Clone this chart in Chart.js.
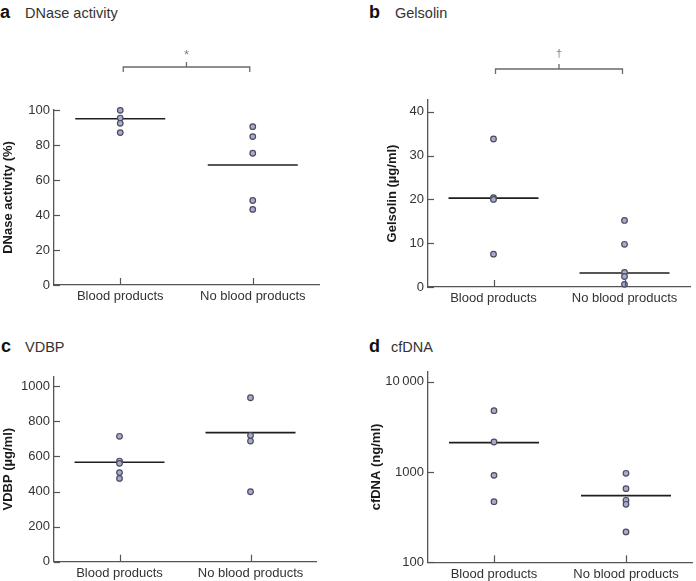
<!DOCTYPE html>
<html><head><meta charset="utf-8">
<script src="https://cdn.jsdelivr.net/npm/chart.js@4"></script>
<style>
body{margin:0;background:#fff;width:696px;height:581px;position:relative;overflow:hidden;font-family:"Liberation Sans",Arial,sans-serif;color:#222}
canvas{position:absolute}
.lt{position:absolute;font-size:18px;font-weight:bold;line-height:22px;white-space:nowrap;color:#111}
.tt{position:absolute;font-size:14.5px;line-height:22px;white-space:nowrap;color:#333}
</style></head>
<body>
<div class="lt" style="left:0px;top:1px">a</div><div class="tt" style="left:25px;top:2.3px">DNase activity</div>
<div class="lt" style="left:369px;top:1px">b</div><div class="tt" style="left:395px;top:2.3px">Gelsolin</div>
<div class="lt" style="left:1px;top:334.5px">c</div><div class="tt" style="left:25px;top:335.8px">VDBP</div>
<div class="lt" style="left:369px;top:334.5px">d</div><div class="tt" style="left:391px;top:335.8px">cfDNA</div>
<canvas id="cA" width="348" height="320" style="left:0;top:0;width:348px;height:320px"></canvas>
<canvas id="cB" width="348" height="320" style="left:348px;top:0;width:348px;height:320px"></canvas>
<canvas id="cC" width="348" height="261" style="left:0;top:320px;width:348px;height:261px"></canvas>
<canvas id="cD" width="348" height="261" style="left:348px;top:320px;width:348px;height:261px"></canvas>
<script>
// ---- data ----
const categories = ['Blood products', 'No blood products'];

const dnaseBlood = [99.8, 95.4, 92.4, 87.1];
const dnaseNoBlood = [90.5, 84.8, 75.3, 48.3, 43.2];
const dnaseLines = [95.0, 68.6];
const dnaseTicks = [0, 20, 40, 60, 80, 100];
const dnaseTickLabels = ['0', '20', '40', '60', '80', '100'];

const gelsolinBlood = [33.8, 20.4, 20.0, 7.5];
const gelsolinNoBlood = [15.2, 9.75, 3.35, 2.4, 0.6];
const gelsolinLines = [20.3, 3.2];
const gelsolinTicks = [0, 10, 20, 30, 40];
const gelsolinTickLabels = ['0', '10', '20', '30', '40'];

const vdbpBlood = [715, 574, 561, 508, 475];
const vdbpNoBlood = [935, 720, 688, 399];
const vdbpLines = [567, 736];
const vdbpTicks = [0, 200, 400, 600, 800, 1000];
const vdbpTickLabels = ['0', '200', '400', '600', '800', '1000'];

const cfdnaBlood = [4775, 2148, 918, 469];
const cfdnaNoBlood = [967, 654, 486, 439, 217];
const cfdnaLines = [2113, 547];
const cfdnaTicks = [100, 1000, 10000];
const cfdnaTickLabels = ['100', '1000', '10\u2009000'];

// ---- styles ----
const AXIS = '#555';
const TXT = '#333';
const FONT = '"Liberation Sans", Arial, sans-serif';

const decor = {
  id: 'decor',
  beforeDatasetsDraw(chart, args, opts) {
    const ctx = chart.ctx, x = chart.scales.x, y = chart.scales.y;
    ctx.save();
    ctx.strokeStyle = '#1e1e1e';
    ctx.lineWidth = 1.6;
    opts.medians.forEach((m, i) => {
      const px = x.getPixelForValue(i), py = y.getPixelForValue(m);
      ctx.beginPath(); ctx.moveTo(px - 45, py); ctx.lineTo(px + 45, py); ctx.stroke();
    });
    ctx.restore();
  },
  afterDraw(chart, args, opts) {
    const ctx = chart.ctx, x = chart.scales.x, y = chart.scales.y, a = chart.chartArea;
    ctx.save();
    ctx.strokeStyle = AXIS; ctx.lineWidth = 1.2;
    y.ticks.forEach(t => {
      const py = Math.round(y.getPixelForValue(t.value)) + 0.5;
      ctx.beginPath(); ctx.moveTo(a.left, py); ctx.lineTo(a.left + 6, py); ctx.stroke();
    });
    x.ticks.forEach(t => {
      const px = Math.round(x.getPixelForValue(t.value)) + 0.5;
      ctx.beginPath(); ctx.moveTo(px, a.bottom); ctx.lineTo(px, a.bottom - 7); ctx.stroke();
    });
    if (opts.bracket) {
      const x0 = x.getPixelForValue(0) + opts.bracket.inset, x1 = x.getPixelForValue(1) - opts.bracket.inset;
      const by = a.top - opts.bracket.above;
      ctx.strokeStyle = '#6a6a6a'; ctx.lineWidth = 1.3;
      ctx.beginPath();
      ctx.moveTo(x0, by + 5); ctx.lineTo(x0, by); ctx.lineTo(x1, by); ctx.lineTo(x1, by + 5);
      ctx.moveTo((x0 + x1) / 2, by); ctx.lineTo((x0 + x1) / 2, by - 5);
      ctx.stroke();
      ctx.fillStyle = '#808080';
      ctx.font = opts.bracket.size + 'px ' + FONT;
      ctx.textAlign = 'center'; ctx.textBaseline = 'middle';
      ctx.fillText(opts.bracket.symbol, (x0 + x1) / 2, by - opts.bracket.symOff);
    }
    ctx.restore();
  }
};

function pts(vals, idx) { return vals.map(v => ({ x: idx, y: v })); }

function makeChart(id, cfg) {
  const ds = (vals, idx) => ({
    data: pts(vals, idx), pointRadius: 2.8, pointHoverRadius: 2.8,
    pointBackgroundColor: '#a6abd2', pointBorderColor: '#4b4b5c', pointBorderWidth: 1.2,
    showLine: false, clip: false
  });
  return new Chart(document.getElementById(id), {
    type: 'scatter',
    data: { datasets: [ds(cfg.blood, 0), ds(cfg.noBlood, 1)] },
    options: {
      responsive: false, animation: false, devicePixelRatio: 1,
      layout: { padding: { top: cfg.padTop, right: cfg.padRight, left: 0, bottom: 0 } },
      plugins: { legend: { display: false }, tooltip: { enabled: false },
        decor: { medians: cfg.lines, bracket: cfg.bracket } },
      scales: {
        x: {
          type: 'linear', min: -0.5, max: 1.5, offset: false,
          afterBuildTicks: s => { s.ticks = categories.map((c, i) => ({ value: i })); },
          afterFit: s => { s.height = cfg.xH; },
          grid: { display: false, drawTicks: false },
          border: { display: true, color: AXIS, width: 1.3 },
          ticks: { autoSkip: false, maxRotation: 0, padding: 4, color: TXT,
            font: { family: FONT, size: 13 }, callback: (v, i) => categories[i] }
        },
        y: {
          type: cfg.yType, min: cfg.yMin, max: cfg.yMax,
          afterBuildTicks: s => { s.ticks = cfg.ticks.map(v => ({ value: v })); },
          afterFit: s => { s.width = cfg.yW; },
          grid: { display: false, drawTicks: false },
          border: { display: true, color: AXIS, width: 1.3 },
          ticks: { padding: 4, color: TXT, font: { family: FONT, size: 13 },
            callback: (v, i) => cfg.tickLabels[i] },
          title: { display: true, text: cfg.title, color: '#1a1a1a',
            font: { family: FONT, size: 13, weight: 'bold' }, padding: { top: cfg.titlePad, bottom: 0 } }
        }
      }
    },
    plugins: [decor]
  });
}

makeChart('cA', { blood: dnaseBlood, noBlood: dnaseNoBlood, lines: dnaseLines,
  ticks: dnaseTicks, tickLabels: dnaseTickLabels, yType: 'linear', yMin: 0, yMax: 100,
  title: 'DNase activity (%)', titlePad: 0.5, yW: 54, xH: 35, padTop: 110, padRight: 29,
  bracket: { symbol: '*', above: 43, inset: 3, size: 13, symOff: 12 } });

makeChart('cB', { blood: gelsolinBlood, noBlood: gelsolinNoBlood, lines: gelsolinLines,
  ticks: gelsolinTicks, tickLabels: gelsolinTickLabels, yType: 'linear', yMin: 0, yMax: 42.7,
  title: 'Gelsolin (\u00b5g/ml)', titlePad: 37, yW: 80, xH: 33, padTop: 100, padRight: 6,
  bracket: { symbol: '\u2020', above: 31, inset: 2, size: 11, symOff: 15 } });

makeChart('cC', { blood: vdbpBlood, noBlood: vdbpNoBlood, lines: vdbpLines,
  ticks: vdbpTicks, tickLabels: vdbpTickLabels, yType: 'linear', yMin: 0, yMax: 1055,
  title: 'VDBP (\u00b5g/ml)', titlePad: 0.5, yW: 54, xH: 19.3, padTop: 56.7, padRight: 32,
  bracket: null });

makeChart('cD', { blood: cfdnaBlood, noBlood: cfdnaNoBlood, lines: cfdnaLines,
  ticks: cfdnaTicks, tickLabels: cfdnaTickLabels, yType: 'logarithmic', yMin: 100, yMax: 12900,
  title: 'cfDNA (ng/ml)', titlePad: 20.5, yW: 80, xH: 18.7, padTop: 51.7, padRight: 1,
  bracket: null });
</script>
</body></html>
